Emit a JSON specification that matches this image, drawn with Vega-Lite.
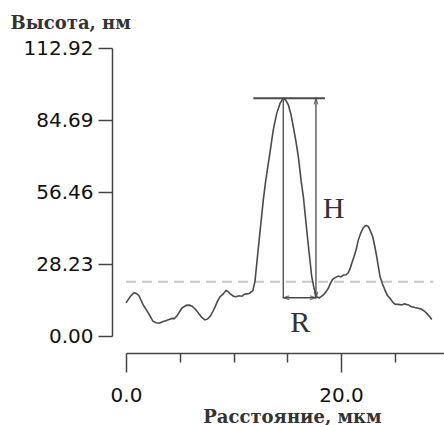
{
  "$schema": "https://vega.github.io/schema/vega-lite/v6.json",
  "width": 318,
  "height": 288,
  "autosize": {"type": "none"},
  "padding": {"left": 126, "top": 48, "right": 0, "bottom": 89},
  "background": "white",
  "config": {"view": {"stroke": null}},
  "datasets": {
    "profile": [
      {"x": 0.0, "y": 13.0}, {"x": 0.4, "y": 15.5}, {"x": 0.75, "y": 17.0}, {"x": 1.0, "y": 16.6},
      {"x": 1.2, "y": 15.8}, {"x": 1.6, "y": 12.2}, {"x": 2.1, "y": 8.9}, {"x": 2.5, "y": 5.8},
      {"x": 2.8, "y": 5.2}, {"x": 3.1, "y": 5.0}, {"x": 3.4, "y": 5.6}, {"x": 3.7, "y": 6.0},
      {"x": 4.0, "y": 6.5}, {"x": 4.3, "y": 6.9}, {"x": 4.5, "y": 6.8}, {"x": 4.75, "y": 7.9},
      {"x": 5.0, "y": 9.6}, {"x": 5.2, "y": 10.9}, {"x": 5.6, "y": 12.0}, {"x": 5.9, "y": 12.1},
      {"x": 6.15, "y": 11.7}, {"x": 6.5, "y": 10.3}, {"x": 6.8, "y": 8.6}, {"x": 7.05, "y": 7.3},
      {"x": 7.35, "y": 6.3}, {"x": 7.6, "y": 6.7}, {"x": 7.85, "y": 7.8}, {"x": 8.1, "y": 9.8},
      {"x": 8.3, "y": 11.5}, {"x": 8.5, "y": 13.6}, {"x": 8.75, "y": 15.4}, {"x": 9.0, "y": 16.3},
      {"x": 9.3, "y": 17.8}, {"x": 9.5, "y": 17.4}, {"x": 9.7, "y": 16.5}, {"x": 10.0, "y": 15.6},
      {"x": 10.2, "y": 15.4}, {"x": 10.5, "y": 15.8}, {"x": 10.8, "y": 15.6}, {"x": 11.0, "y": 16.4},
      {"x": 11.25, "y": 16.5}, {"x": 11.5, "y": 16.8}, {"x": 11.8, "y": 17.8}, {"x": 12.0, "y": 21.5},
      {"x": 12.2, "y": 30.0}, {"x": 12.47, "y": 41.0}, {"x": 12.77, "y": 53.3}, {"x": 13.0, "y": 61.0},
      {"x": 13.24, "y": 67.7}, {"x": 13.5, "y": 75.0}, {"x": 13.7, "y": 80.8}, {"x": 14.02, "y": 87.3},
      {"x": 14.33, "y": 91.2}, {"x": 14.63, "y": 93.2}, {"x": 14.85, "y": 92.5}, {"x": 15.1, "y": 90.6},
      {"x": 15.35, "y": 86.8}, {"x": 15.56, "y": 82.1}, {"x": 15.8, "y": 76.5}, {"x": 16.03, "y": 70.3},
      {"x": 16.3, "y": 60.5}, {"x": 16.5, "y": 54.6}, {"x": 16.8, "y": 42.0}, {"x": 17.0, "y": 34.0},
      {"x": 17.27, "y": 23.5}, {"x": 17.5, "y": 18.5}, {"x": 17.74, "y": 15.4}, {"x": 17.98, "y": 14.9},
      {"x": 18.2, "y": 15.6}, {"x": 18.36, "y": 16.1}, {"x": 18.6, "y": 17.3}, {"x": 18.82, "y": 18.7},
      {"x": 19.0, "y": 20.5}, {"x": 19.22, "y": 22.2}, {"x": 19.5, "y": 23.0}, {"x": 19.75, "y": 23.5},
      {"x": 20.0, "y": 23.2}, {"x": 20.22, "y": 23.9}, {"x": 20.45, "y": 24.0}, {"x": 20.68, "y": 24.8},
      {"x": 20.85, "y": 26.5}, {"x": 21.0, "y": 28.5}, {"x": 21.2, "y": 31.0}, {"x": 21.4, "y": 33.7},
      {"x": 21.6, "y": 37.5}, {"x": 21.83, "y": 40.3}, {"x": 22.05, "y": 42.3}, {"x": 22.23, "y": 43.1},
      {"x": 22.4, "y": 43.3}, {"x": 22.54, "y": 42.9}, {"x": 22.75, "y": 41.0}, {"x": 22.95, "y": 38.9},
      {"x": 23.15, "y": 35.0}, {"x": 23.32, "y": 31.1}, {"x": 23.5, "y": 26.5}, {"x": 23.63, "y": 23.3},
      {"x": 23.85, "y": 20.5}, {"x": 24.09, "y": 18.0}, {"x": 24.3, "y": 16.0}, {"x": 24.56, "y": 14.8},
      {"x": 24.8, "y": 13.3}, {"x": 25.02, "y": 12.5}, {"x": 25.3, "y": 12.4}, {"x": 25.65, "y": 12.2},
      {"x": 25.9, "y": 12.6}, {"x": 26.26, "y": 12.2}, {"x": 26.5, "y": 11.6}, {"x": 26.88, "y": 11.2},
      {"x": 27.2, "y": 10.9}, {"x": 27.5, "y": 10.5}, {"x": 27.75, "y": 9.8}, {"x": 27.97, "y": 8.9},
      {"x": 28.2, "y": 7.8}, {"x": 28.44, "y": 6.5}
    ],
    "level": [{"x": 0.0, "x2": 28.6, "y": 21.3, "y2": 21.3}],
    "guides": [
      {"x": 11.85, "x2": 18.5, "y": 93.2, "y2": 93.2, "w": 2},
      {"x": 14.63, "x2": 14.63, "y": 93.2, "y2": 15.0, "w": 1.3},
      {"x": 17.67, "x2": 17.67, "y": 93.2, "y2": 15.0, "w": 1.3},
      {"x": 14.63, "x2": 17.67, "y": 15.0, "y2": 15.0, "w": 1.3}
    ],
    "heads": [
      {"x": 17.67, "y": 93.2, "dir": "up"},
      {"x": 17.67, "y": 15.0, "dir": "down"},
      {"x": 14.63, "y": 15.0, "dir": "left"},
      {"x": 17.67, "y": 15.0, "dir": "right"}
    ],
    "labels": [
      {"x": 19.3, "y": 46.3, "label": "H"},
      {"x": 16.2, "y": 1.6, "label": "R"}
    ]
  },
  "encoding": {
    "x": {
      "field": "x", "type": "quantitative",
      "scale": {"domain": [0, 29.58], "nice": false, "zero": false},
      "axis": {
        "values": [0, 5, 10, 15, 20, 25],
        "offset": 17,
        "grid": false,
        "labelFlush": false,
        "labelOverlap": false,
        "labelBound": false,
        "labelExpr": "datum.value % 20 === 0 ? format(datum.value, '.1f') : ''",
        "tickSize": {"condition": {"test": "datum.value % 20 === 0", "value": 19}, "value": 9},
        "tickColor": "#444", "tickWidth": 1.5,
        "domainColor": "#444", "domainWidth": 1.5,
        "labelFont": "DejaVu Sans", "labelFontSize": 20, "labelColor": "#111",
        "labelPadding": 13,
        "title": "Расстояние, мкм",
        "titleFont": "DejaVu Serif", "titleFontSize": 18, "titleFontWeight": "bold", "titleColor": "#333",
        "titleX": 166, "titleY": 69, "titleAlign": "center", "titleBaseline": "alphabetic"
      }
    },
    "y": {
      "field": "y", "type": "quantitative",
      "scale": {"domain": [0, 112.92], "nice": false, "zero": false},
      "axis": {
        "values": [0, 28.23, 56.46, 84.69, 112.92],
        "format": ".2f",
        "offset": 14,
        "grid": false,
        "labelFlush": false,
        "labelOverlap": false,
        "labelBound": false,
        "tickSize": 14, "tickColor": "#444", "tickWidth": 1.5,
        "domainColor": "#444", "domainWidth": 1.5,
        "labelFont": "DejaVu Sans", "labelFontSize": 20, "labelColor": "#111",
        "labelPadding": 5,
        "title": "Высота, нм",
        "titleFont": "DejaVu Serif", "titleFontSize": 18, "titleFontWeight": "bold", "titleColor": "#333",
        "titleAngle": 0, "titleAlign": "left", "titleBaseline": "alphabetic",
        "titleX": -102, "titleY": -20
      }
    }
  },
  "layer": [
    {
      "data": {"name": "level"},
      "mark": {"type": "rule", "color": "#c8c8c8", "strokeWidth": 2, "strokeDash": [10, 6]},
      "encoding": {"x2": {"field": "x2"}, "y2": {"field": "y2"}}
    },
    {
      "data": {"name": "profile"},
      "mark": {"type": "line", "color": "#4a4a4a", "strokeWidth": 1.6, "interpolate": "linear"},
      "encoding": {}
    },
    {
      "data": {"name": "guides"},
      "mark": {"type": "rule", "color": "#4a4a4a"},
      "encoding": {
        "x2": {"field": "x2"}, "y2": {"field": "y2"},
        "strokeWidth": {"field": "w", "type": "quantitative", "scale": null}
      }
    },
    {
      "data": {"name": "heads"},
      "mark": {"type": "point", "filled": false, "stroke": "#4a4a4a", "strokeWidth": 1.2, "size": 30},
      "encoding": {
        "shape": {
          "field": "dir", "type": "nominal", "legend": null,
          "scale": {
            "domain": ["up", "down", "left", "right"],
            "range": [
              "M-0.7,2.2L0,0L0.7,2.2",
              "M-0.7,-2.2L0,0L0.7,-2.2",
              "M2.2,-0.7L0,0L2.2,0.7",
              "M-2.2,-0.7L0,0L-2.2,0.7"
            ]
          }
        }
      }
    },
    {
      "data": {"name": "labels"},
      "mark": {"type": "text", "font": "Liberation Serif", "fontSize": 30, "color": "#333", "align": "center", "baseline": "alphabetic"},
      "encoding": {"text": {"field": "label"}}
    }
  ]
}
